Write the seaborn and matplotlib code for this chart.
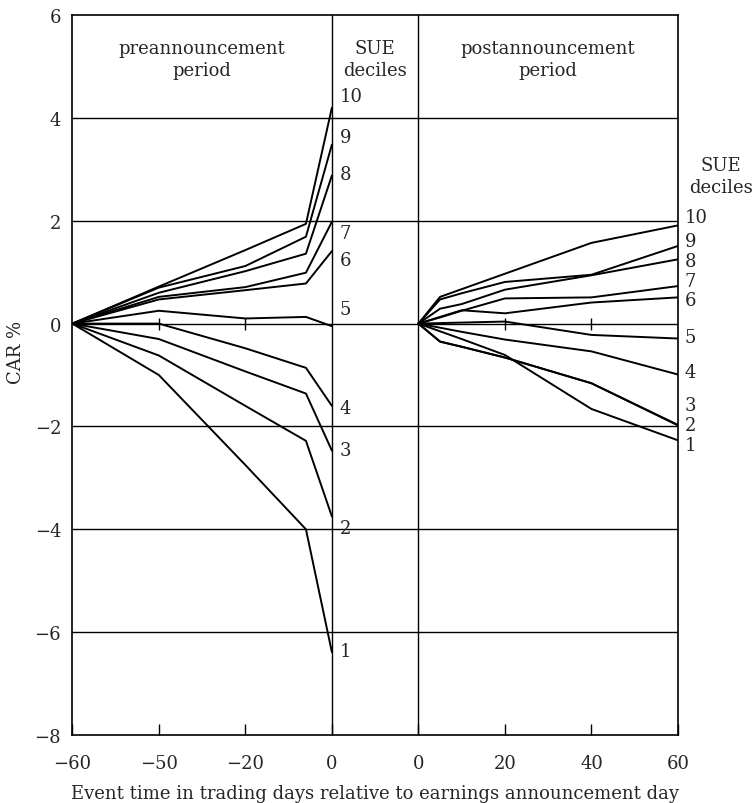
import numpy as np
import pandas as pd
import matplotlib
matplotlib.use("Agg")
import matplotlib.pyplot as plt
import seaborn as sns

# ---------------- data ----------------
deciles = [10, 9, 8, 7, 6, 5, 4, 3, 2, 1]

pre_days = [-60, -50, -20, -6, 0]
pre_car = {
    10: [0, 0.72, 1.43, 1.94, 4.20],
    9:  [0, 0.70, 1.12, 1.69, 3.48],
    8:  [0, 0.60, 1.02, 1.36, 2.88],
    7:  [0, 0.52, 0.71, 0.99, 1.98],
    6:  [0, 0.47, 0.65, 0.78, 1.41],
    5:  [0, 0.25, 0.10, 0.13, -0.05],
    4:  [0, 0.00, -0.48, -0.86, -1.60],
    3:  [0, -0.30, -0.93, -1.36, -2.47],
    2:  [0, -0.62, -1.60, -2.28, -3.75],
    1:  [0, -1.00, -2.75, -4.00, -6.39],
}

post_days = [0, 5, 10, 20, 40, 60]
post_car = {
    10: [0, 0.52, 0.67, 0.97, 1.57, 1.91],
    9:  [0, 0.47, 0.59, 0.81, 0.95, 1.51],
    8:  [0, 0.29, 0.38, 0.66, 0.94, 1.25],
    7:  [0, 0.12, 0.25, 0.49, 0.51, 0.73],
    6:  [0, 0.13, 0.26, 0.20, 0.41, 0.51],
    5:  [0, 0.01, 0.02, 0.04, -0.22, -0.29],
    4:  [0, -0.08, -0.16, -0.31, -0.54, -0.99],
    3:  [0, -0.35, -0.45, -0.66, -1.16, -1.97],
    2:  [0, -0.35, -0.45, -0.66, -1.16, -1.98],
    1:  [0, -0.15, -0.30, -0.61, -1.66, -2.27],
}

pre_tick_days = [-60, -50, -20, 0]
post_tick_days = [0, 20, 40, 60]
y_ticks = [-8, -6, -4, -2, 0, 2, 4, 6]

# label placement (annotation positions, CAR units)
pre_label_y = {10: 4.43, 9: 3.63, 8: 2.90, 7: 1.77, 6: 1.23, 5: 0.29,
               4: -1.64, 3: -2.46, 2: -3.98, 1: -6.36}
post_label_y = {10: 2.07, 9: 1.60, 8: 1.21, 7: 0.82, 6: 0.45, 5: -0.27,
                4: -0.95, 3: -1.59, 2: -1.97, 1: -2.37}

# ---------------- axis mapping (equally spaced ticks) ----------------
n_pre = len(pre_tick_days)
pre_slots = np.arange(n_pre)                       # 0..3
post_slots = np.arange(len(post_tick_days)) + n_pre  # 4..7


def pre_pos(d):
    return np.interp(d, pre_tick_days, pre_slots)


def post_pos(d):
    return np.interp(d, post_tick_days, post_slots)


rows = []
for dec in deciles:
    for d, v in zip(pre_days, pre_car[dec]):
        rows.append(dict(series=f"pre{dec}", pos=float(pre_pos(d)), car=v))
    for d, v in zip(post_days, post_car[dec]):
        rows.append(dict(series=f"post{dec}", pos=float(post_pos(d)), car=v))
df = pd.DataFrame(rows)

# ---------------- style ----------------
sns.set_style("white")
plt.rcParams["font.family"] = ["DejaVu Serif"]
plt.rcParams["font.size"] = 13
plt.rcParams["axes.unicode_minus"] = True

fig = plt.figure(figsize=(7.55, 8.04), dpi=100)
ax = fig.add_axes([0.0958, 0.0846, 0.8022, 0.8954])

sns.lineplot(data=df, x="pos", y="car", units="series", estimator=None,
             sort=False, color="black", lw=1.4, ax=ax, legend=False)

xmax = post_slots[-1]
ax.set_xlim(0, xmax)
ax.set_ylim(y_ticks[0], y_ticks[-1])

for y in y_ticks[1:-1]:
    ax.axhline(y, color="black", lw=1.0, zorder=1)
ax.axvline(pre_slots[-1], color="black", lw=1.0, zorder=1)
ax.axvline(post_slots[0], color="black", lw=1.0, zorder=1)

# small crosses on the zero line
inner = list(pre_slots[1:-1]) + list(post_slots[1:-1])
ax.plot(inner, [0] * len(inner), linestyle="none", marker="|",
        markersize=9, markeredgewidth=1.0, color="black")


def fmt(d):
    return f"\u2212{abs(d)}" if d < 0 else f"{d}"


ax.set_xticks(list(pre_slots) + list(post_slots))
ax.set_xticklabels([fmt(d) for d in pre_tick_days] + [fmt(d) for d in post_tick_days])
ax.set_yticks(y_ticks)
ax.set_yticklabels([fmt(v) for v in y_ticks])
ax.tick_params(axis="x", direction="in", length=8, width=1.0, pad=13.5,
               bottom=True, labelsize=13, color="black")
ax.tick_params(axis="y", length=0, pad=8, labelsize=13)

for s in ax.spines.values():
    s.set_visible(True)
    s.set_color("black")
    s.set_linewidth(1.2)

ax.set_xlabel("Event time in trading days relative to earnings announcement day",
              fontsize=13)
ax.xaxis.set_label_coords(0.5, -0.068)
ax.xaxis.label.set_va("top")
ax.set_ylabel("CAR %", fontsize=13)
ax.yaxis.set_label_coords(-0.078, 0.533)

# headers
ax.text((pre_slots[0] + pre_slots[-1]) / 2, 5.15, "preannouncement\nperiod",
        ha="center", va="center", linespacing=1.3, fontsize=13)
ax.text((post_slots[0] + post_slots[-1]) / 2, 5.15, "postannouncement\nperiod",
        ha="center", va="center", linespacing=1.3, fontsize=13)
ax.text((pre_slots[-1] + post_slots[0]) / 2, 5.15, "SUE\ndeciles",
        ha="center", va="center", linespacing=1.3, fontsize=13)
ax.text(xmax + 0.5, 2.87, "SUE\ndeciles", ha="center", va="center",
        linespacing=1.3, fontsize=13, clip_on=False)

for dec in deciles:
    ax.text(pre_slots[-1] + 0.09, pre_label_y[dec], str(dec), ha="left",
            va="center", fontsize=13)
    ax.text(xmax + 0.08, post_label_y[dec], str(dec), ha="left",
            va="center", fontsize=13, clip_on=False)

fig.savefig("out.png", dpi=100)
